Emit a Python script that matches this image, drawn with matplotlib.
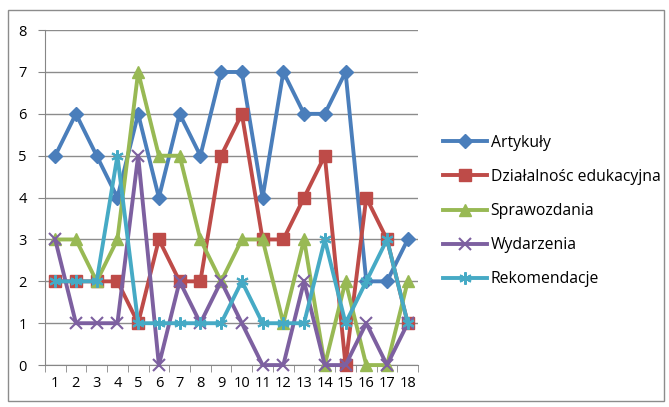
import numpy as np
import matplotlib.pyplot as plt
from matplotlib.patches import Rectangle

CATEGORIES = [str(i) for i in range(1, 19)]
SERIES_NAMES = ['Artykuły', 'Działalnośc edukacyjna', 'Sprawozdania', 'Wydarzenia', 'Rekomendacje']
ARTYKULY = [5, 6, 5, 4, 6, 4, 6, 5, 7, 7, 4, 7, 6, 6, 7, 2, 2, 3]
DZIALALNOSC = [2, 2, 2, 2, 1, 3, 2, 2, 5, 6, 3, 3, 4, 5, 0, 4, 3, 1]
SPRAWOZDANIA = [3, 3, 2, 3, 7, 5, 5, 3, 2, 3, 3, 1, 3, 0, 2, 0, 0, 2]
WYDARZENIA = [3, 1, 1, 1, 5, 0, 2, 1, 2, 1, 0, 0, 2, 0, 0, 1, 0, 1]
REKOMENDACJE = [2, 2, 2, 5, 1, 1, 1, 1, 1, 2, 1, 1, 1, 3, 1, 2, 3, 1]

COLORS = ['#4A7EBB', '#BE4B48', '#98B954', '#7D60A0', '#46AAC5']
MARKERS = ['D', 's', '^', 'x', (6, 2, 0)]
SIZES = [7.5, 8.5, 8.5, 9, 9]

plt.rcParams['font.family'] = ['Open Sans', 'DejaVu Sans']

fig = plt.figure(figsize=(6.69, 4.07), dpi=100)
fig.patches.append(Rectangle((0.012, 0.015), 0.98, 0.96, transform=fig.transFigure,
                             fill=False, edgecolor='#8c8c8c', linewidth=1))
ax = fig.add_axes([0.067, 0.103, 0.558, 0.823])

x = np.arange(len(CATEGORIES))
data = [ARTYKULY, DZIALALNOSC, SPRAWOZDANIA, WYDARZENIA, REKOMENDACJE]
for vals, name, c, m, s in zip(data, SERIES_NAMES, COLORS, MARKERS, SIZES):
    ax.plot(x, vals, color=c, linewidth=2.8, marker=m, markersize=s,
            markeredgewidth=1.5 if m == 'x' or isinstance(m, tuple) else 1,
            markeredgecolor=c, label=name, clip_on=False, zorder=3)

ax.set_xlim(-0.5, len(CATEGORIES) - 0.5)
ax.set_ylim(0, 8)
ax.set_yticks(range(0, 9))
ax.set_xticks(x)
ax.set_xticklabels(CATEGORIES, fontsize=10.5)
ax.set_xticks(np.arange(-0.5, len(CATEGORIES)), minor=True)
ax.tick_params(axis='x', which='major', length=0, pad=8)
ax.tick_params(axis='x', which='minor', length=5, color='#868686', direction='out')
ax.tick_params(axis='y', length=5, color='#868686', labelsize=10.5, pad=8)
ax.grid(axis='y', color='#8c8c8c', linewidth=1)
ax.set_axisbelow(True)
for side in ('top', 'right'):
    ax.spines[side].set_visible(False)
for side in ('left', 'bottom'):
    ax.spines[side].set_color('#868686')

ax.legend(loc='center left', bbox_to_anchor=(1.03, 0.46), frameon=False,
          fontsize=11.3, handlelength=2.8, labelspacing=1.15, handletextpad=0.2)

fig.savefig('out.png', dpi=100)
